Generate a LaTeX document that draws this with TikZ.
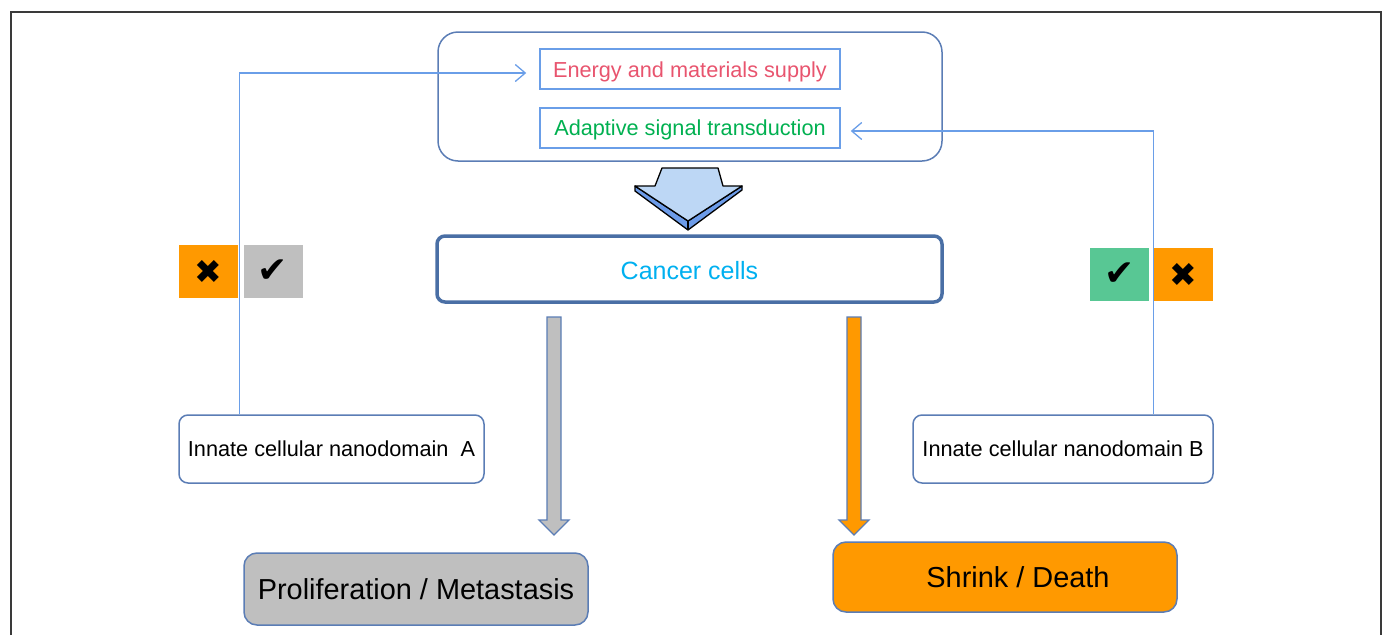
\documentclass[tikz,border=0pt]{standalone}
\usepackage{fontspec}
\setmainfont{Liberation Sans}
\newfontfamily\symfont{DejaVu Sans}
\usetikzlibrary{arrows.meta,calc}

\definecolor{framegray}{HTML}{3A3A3A}
\definecolor{boxblue}{HTML}{5B7DB5}
\definecolor{lineblue}{HTML}{6A9EE8}
\definecolor{cellblue}{HTML}{4A6FA5}
\definecolor{energyred}{HTML}{E8546E}
\definecolor{adaptgreen}{HTML}{00B050}
\definecolor{cancercyan}{HTML}{00B0F0}
\definecolor{outorange}{HTML}{FF9900}
\definecolor{outgray}{HTML}{BFBFBF}
\definecolor{markgreen}{HTML}{58C794}
\definecolor{arrowfill}{HTML}{BDD7F5}
\definecolor{arrowside}{HTML}{6C9BE8}

% lower a label without changing its box
\newcommand{\lowerby}[2]{\raisebox{-#1}[\height][\depth]{#2}}

\begin{document}
\begin{tikzpicture}[x=1pt,y=-1pt,
  holder/.style={draw=boxblue, line width=1.5pt, rounded corners=20pt},
  subbox/.style={draw=lineblue, line width=1.5pt, minimum width=300pt,
    minimum height=40pt, inner sep=0pt, font=\fontsize{21.7}{26}\selectfont},
  cellbox/.style={draw=cellblue, line width=3.5pt, rounded corners=8pt,
    minimum width=505pt, minimum height=66pt, inner sep=0pt,
    text=cancercyan, font=\fontsize{25}{30}\selectfont},
  nanobox/.style={draw=boxblue, line width=1.5pt, rounded corners=9pt,
    minimum height=68pt, inner sep=0pt,
    font=\fontsize{21.7}{26}\selectfont},
  outbox/.style={draw=boxblue, line width=1.5pt, rounded corners=13pt,
    minimum width=344pt, inner sep=0pt, font=\fontsize{28.9}{34}\selectfont},
  markbox/.style={minimum width=59pt, minimum height=53pt, inner sep=0pt},
  crossmark/.style={markbox, font=\symfont\fontsize{33}{36}\selectfont},
  tickmark/.style={markbox, font=\symfont\fontsize{36}{40}\selectfont},
  link/.style={draw=lineblue, line width=1.3pt,
    -{Straight Barb[length=10pt,width=17pt,line width=1.3pt]}},
  flow/.style={draw=boxblue, line width=1.3pt, line join=miter}
]
\useasboundingbox (0,0) rectangle (1385,635);

% page frame, open at the bottom
\draw[framegray, line width=2pt] (11,635) -- (11,12) -- (1381,12) -- (1381,635);

% container of the two supply processes
\draw[holder] (438,32) rectangle (942,161);
\node[subbox, text=energyred] (energy) at (690,69) {\lowerby{3pt}{Energy and materials supply}};
\node[subbox, text=adaptgreen] (adapt) at (690,128) {\lowerby{2pt}{Adaptive signal transduction}};

% broad block arrow into the cells
\fill[arrowside, draw=black, line width=1.3pt, line join=round]
  (635,186) -- (688,221) -- (742,186) -- (742,190) -- (688,230) -- (635,191) -- cycle;
\filldraw[fill=arrowfill, draw=black, line width=1.3pt, line join=round]
  (662,168) -- (718,168) -- (723,186) -- (742,186) -- (688,221)
  -- (635,186) -- (655,186) -- cycle;
\draw[black, line width=1.3pt] (688,221) -- (688,230);

% cancer cells
\node[cellbox] (cells) at (689.5,269) {\lowerby{1.5pt}{Cancer cells}};

% nanodomains
\node[nanobox, minimum width=305pt] (nA) at (331.5,449) {Innate cellular nanodomain \ A};
\node[nanobox, minimum width=300pt] (nB) at (1063,449) {Innate cellular nanodomain B};

% outcomes
\node[outbox, fill=outgray, minimum height=72pt] (prolif) at (416,589)
  {Proliferation / Metastasis};
\node[outbox, fill=outorange, minimum height=70pt] (shrink) at (1005,577)
  {\hspace*{26pt}Shrink / Death};

% downward flow arrows
\filldraw[flow, fill=outgray]
  (547,317) -- (561,317) -- (561,520) -- (569,520) -- (554,535)
  -- (539,520) -- (547,520) -- cycle;
\filldraw[flow, fill=outorange]
  (847,317) -- (861,317) -- (861,520) -- (869,520) -- (854,535)
  -- (839,520) -- (847,520) -- cycle;

% feedback links from the nanodomains
\coordinate (eIn) at ($(energy.west)+(-13,4)$);
\coordinate (aIn) at ($(adapt.east)+(10,3)$);
\draw[link] ($(nA.north west)+(61,0)$) |- (eIn);
\draw[link] ($(nB.north east)+(-60,0)$) |- (aIn);

% on/off marks
\node[crossmark, fill=outorange] (mA1) at (208.5,271.5) {✖};
\node[tickmark, fill=outgray] (mA2) at (273,271.5) {✔};
\node[tickmark, fill=markgreen] (mB1) at (1119.5,274.5) {✔};
\node[crossmark, fill=outorange] (mB2) at (1183.5,274.5) {✖};
\end{tikzpicture}
\end{document}
